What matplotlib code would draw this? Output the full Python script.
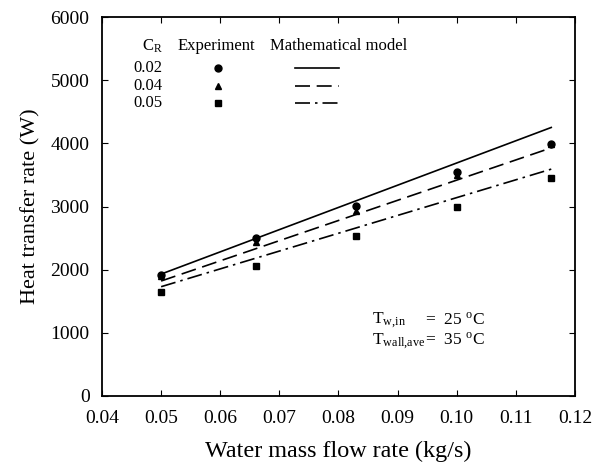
import matplotlib
matplotlib.use('Agg')
from matplotlib import pyplot as plt

plt.rcParams['font.family'] = 'Liberation Serif'
plt.rcParams['mathtext.fontset'] = 'stix'

# experimental data
flow = [0.05, 0.066, 0.083, 0.1, 0.116]
exp_002 = [1915, 2495, 3006, 3540, 3998]
exp_004 = [1900, 2442, 2932, 3497, 3990]
exp_005 = [1650, 2062, 2532, 2996, 3444]

# model lines (end points)
model_x = [0.05, 0.116]
model_002 = [1930, 4252]
model_004 = [1820, 3929]
model_005 = [1730, 3592]

cr_labels = ['0.02', '0.04', '0.05']

fig = plt.figure(figsize=(6.09, 4.62), dpi=100)
ax = fig.add_axes([0.1675, 0.143, 0.7765, 0.82])

ax.plot(flow, exp_002, 'ko', ms=5, ls='none')
ax.plot(flow, exp_004, 'k^', ms=5, ls='none')
ax.plot(flow, exp_005, 'ks', ms=5, ls='none')
ax.plot(model_x, model_002, 'k-', lw=1.2)
ax.plot(model_x, model_004, 'k', lw=1.2, dashes=(9, 4))
ax.plot(model_x, model_005, 'k', lw=1.2, dashes=(9, 3, 1.5, 3))

ax.set_xlim(0.04, 0.12)
ax.set_ylim(0, 6000)
ax.set_xticks([0.04, 0.05, 0.06, 0.07, 0.08, 0.09, 0.10, 0.11, 0.12])
ax.set_xticklabels(['0.04', '0.05', '0.06', '0.07', '0.08', '0.09', '0.10', '0.11', '0.12'])
ax.set_yticks([0, 1000, 2000, 3000, 4000, 5000, 6000])
ax.tick_params(direction='in', top=True, right=True, labelsize=14, length=4)
ax.tick_params(axis='x', pad=10)
ax.tick_params(axis='y', pad=9)
for s in ax.spines.values():
    s.set_linewidth(1.3)
ax.set_xlabel('Water mass flow rate (kg/s)', fontsize=17.4, labelpad=10)
ax.set_ylabel('Heat transfer rate (W)', fontsize=16, labelpad=7)

# table style legend
t = ax.transAxes
fs = 12
ax.text(0.106, 0.923, r'C$_{\mathregular{R}}$', transform=t, fontsize=fs, ha='center', va='center')
ax.text(0.242, 0.923, 'Experiment', transform=t, fontsize=fs, ha='center', va='center')
ax.text(0.355, 0.923, 'Mathematical model', transform=t, fontsize=fs, ha='left', va='center')
rows = [0.865, 0.817, 0.772]
markers = ['o', '^', 's']
styles = [dict(ls='-'), dict(dashes=(9, 4)), dict(dashes=(9, 3, 1.5, 3))]
for lab, yy, m, st in zip(cr_labels, rows, markers, styles):
    ax.text(0.097, yy, lab, transform=t, fontsize=fs, ha='center', va='center')
    ax.plot([0.245], [yy], 'k' + m, ms=5, transform=t)
    ax.plot([0.408, 0.501], [yy, yy], color='k', lw=1.2, transform=t, **st)

ax.text(0.571, 0.201, r'T$_{\mathregular{w{,}in}}$', transform=t, fontsize=12.5, va='center')
ax.text(0.682, 0.201, r'=  25 $^{\mathregular{o}}$C', transform=t, fontsize=12.5, va='center')
ax.text(0.571, 0.146, r'T$_{\mathregular{wall{,}ave}}$', transform=t, fontsize=12.5, va='center')
ax.text(0.682, 0.146, r'=  35 $^{\mathregular{o}}$C', transform=t, fontsize=12.5, va='center')

fig.savefig('out.png', dpi=100)
